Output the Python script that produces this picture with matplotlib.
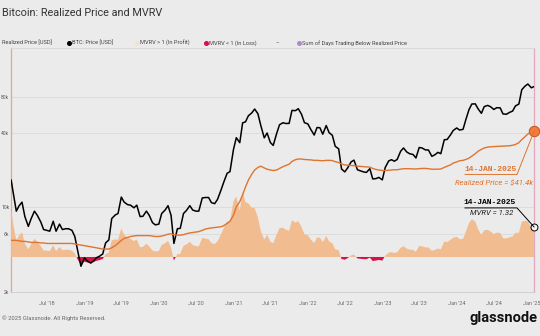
import matplotlib
matplotlib.use("Agg")
import matplotlib.pyplot as plt
import matplotlib.dates as mdates
from matplotlib.lines import Line2D
from matplotlib.ticker import NullLocator
from matplotlib.transforms import IdentityTransform
import numpy as np
import pandas as pd

# dates: one point in early Jan 2018, then 1st/15th of each month, then the last day
dates = (pd.DatetimeIndex([pd.Timestamp("2018-01-07")])
         .append(pd.date_range("2018-01-15", "2025-01-01", freq="SMS"))
         .append(pd.DatetimeIndex([pd.Timestamp("2025-01-14")])))

# BTC price [k USD]
price_k = [
    16.5, 13.6, 9.2, 10.2, 10.9, 8.3, 6.9, 8.0, 9.2, 8.5, 7.5, 6.5,
    6.4, 6.3, 7.6, 6.3, 7.2, 6.5, 6.6, 6.6, 6.4, 5.7, 4.2, 3.25,
    3.8, 3.6, 3.45, 3.6, 3.82, 3.92, 4.1, 5.05, 5.35, 8.0, 8.55, 8.8,
    12.0, 10.9, 10.4, 10.3, 9.8, 10.3, 8.3, 8.35, 9.2, 8.5, 7.4, 7.1,
    7.2, 8.8, 9.4, 10.2, 8.5, 5.0, 6.6, 6.65, 8.8, 9.3, 10.2, 9.4,
    9.2, 9.2, 11.8, 11.9, 11.9, 10.8, 10.6, 11.5, 13.7, 16.0, 18.8, 19.4,
    29.4, 36.8, 33.5, 48.7, 49.6, 55.6, 58.8, 63.2, 57.8, 46.4, 36.7, 40.2,
    33.6, 31.8, 39.9, 47.0, 48.8, 48.1, 48.2, 61.6, 61.3, 63.6, 57.2, 48.9,
    47.7, 43.1, 38.7, 44.6, 44.4, 39.3, 46.3, 40.5, 38.5, 31.3, 29.8, 20.4,
    19.3, 20.8, 23.3, 24.1, 20.1, 19.7, 19.3, 19.1, 20.5, 16.9, 17.0, 17.4,
    16.6, 20.9, 23.7, 24.3, 23.6, 24.4, 28.5, 30.3, 28.1, 27.2, 26.8, 25.1,
    30.6, 30.3, 29.2, 29.2, 25.9, 26.6, 27.9, 27.2, 35.4, 35.6, 38.7, 42.2,
    44.2, 42.5, 43.1, 51.9, 62.4, 69.5, 69.7, 63.4, 58.3, 66.2, 67.7, 66.0,
    62.7, 64.8, 64.6, 57.6, 57.3, 59.2, 60.8, 67.0, 69.5, 91.0, 97.4, 101.4,
    94.4, 96.5,
]

# realized price [k USD]
realized_k = [
    5.3, 5.3, 5.3, 5.25, 5.2, 5.2, 5.15, 5.1, 5.1, 5.1, 5.05, 5.05,
    5.0, 5.0, 5.0, 5.0, 5.0, 5.0, 5.0, 5.0, 5.0, 4.95, 4.9, 4.85,
    4.8, 4.75, 4.7, 4.65, 4.6, 4.55, 4.5, 4.5, 4.5, 4.6, 4.8, 5.0,
    5.3, 5.5, 5.6, 5.7, 5.75, 5.8, 5.8, 5.8, 5.8, 5.8, 5.75, 5.7,
    5.7, 5.75, 5.85, 5.95, 6.0, 5.9, 5.85, 5.85, 5.9, 6.0, 6.1, 6.15,
    6.2, 6.25, 6.4, 6.55, 6.65, 6.7, 6.75, 6.8, 6.85, 7.0, 7.3, 7.6,
    8.5, 10.0, 11.0, 12.5, 14.5, 16.5, 18.5, 20.0, 21.0, 21.5, 20.8, 20.3,
    20.0, 19.8, 20.0, 20.6, 21.3, 21.8, 22.3, 23.5, 24.3, 24.6, 24.6, 24.4,
    24.3, 24.2, 24.0, 24.0, 23.9, 23.8, 24.0, 24.0, 23.9, 23.4, 23.0, 22.4,
    22.0, 21.9, 21.8, 21.7, 21.5, 21.4, 21.3, 21.2, 21.1, 20.6, 20.2, 20.0,
    19.8, 19.8, 19.9, 20.0, 20.1, 20.1, 20.3, 20.5, 20.5, 20.5, 20.4, 20.4,
    20.5, 20.6, 20.6, 20.5, 20.3, 20.3, 20.3, 20.4, 21.0, 21.5, 22.0, 22.8,
    23.3, 23.8, 24.0, 24.4, 25.0, 26.0, 27.2, 28.5, 29.5, 30.3, 30.8, 31.0,
    31.1, 31.2, 31.3, 31.4, 31.5, 31.6, 31.9, 32.4, 33.5, 35.5, 37.5, 39.5,
    40.7, 41.4,
]

price_ticks = [2000, 6000, 10000, 40000, 80000]
price_tick_labels = ["2k", "6k", "10k", "40k", "80k"]

last_date_label = "14-JAN-2025"
rp_label = "Realized Price = $41.4k"
mvrv_label = "MVRV = 1.32"

assert len(price_k) == len(dates) == len(realized_k)
price = np.array(price_k) * 1000
realized = np.array(realized_k) * 1000
mvrv = price / realized  # MVRV = market value / realized value

BG = "#ebebeb"
ORANGE_AREA = "#f1bc8f"
RED = "#d6124c"
RP_COLOR = "#df7430"
FONT = ["Roboto", "DejaVu Sans"]
plt.rcParams["font.family"] = FONT

fig = plt.figure(figsize=(5.4, 3.36), dpi=100, facecolor=BG)
ax = fig.add_axes([11 / 540, 44 / 336, 523 / 540, 244 / 336])
ax.set_facecolor(BG)
ax.set_yscale("log")
ax.set_ylim(2000, 200000)
ax.set_yticks(price_ticks)
ax.set_yticklabels(price_tick_labels)
ax.yaxis.set_minor_locator(NullLocator())
ax.grid(axis="y", color="#dadada", lw=0.6)
ax.tick_params(axis="y", length=0, pad=1.2, labelsize=3.6, labelcolor="#555555")
ax.tick_params(axis="x", length=0, pad=6.5, labelsize=4, labelcolor="#6a6a6a")
ax.xaxis.set_major_locator(mdates.MonthLocator(bymonth=(1, 7)))
ax.xaxis.set_major_formatter(mdates.DateFormatter("%b '%y"))
ax.set_xlim(pd.Timestamp("2018-01-06"), pd.Timestamp("2025-01-14"))
ax.spines["left"].set_color("#f0a47c")
ax.spines["left"].set_linewidth(0.9)
ax.spines["right"].set_color("#e3a8bd")
ax.spines["right"].set_linewidth(0.9)
ax.spines["bottom"].set_color("#cccccc")
ax.spines["bottom"].set_linewidth(0.6)
ax.spines["top"].set_color("#d6d6d6")
ax.spines["top"].set_linewidth(0.6)

# MVRV area
ax2 = ax.twinx()
ax2.set_ylim(-0.55, 10.25)
ax2.fill_between(dates, 1, mvrv, where=mvrv >= 1, interpolate=True,
                 color=ORANGE_AREA, lw=0)
ax2.fill_between(dates, 1, mvrv, where=mvrv < 1, interpolate=True,
                 color=RED, lw=0)
ax2.set_yticks([])
for s in ax2.spines.values():
    s.set_visible(False)

# price + realized price
ax3 = ax.twinx()
ax3.set_yscale("log")
ax3.set_ylim(2000, 200000)
ax3.set_yticks([])
ax3.yaxis.set_minor_locator(NullLocator())
for s in ax3.spines.values():
    s.set_visible(False)
ax3.plot(dates, price, color="black", lw=1.1)
ax3.plot(dates, realized, color=RP_COLOR, lw=1.0)

# annotations at the last day
last = dates[-1]
ax3.plot([last], [realized[-1]], "o", ms=7.5, mfc="#f37b3d", mec="#c2551d",
         mew=0.7, clip_on=False, zorder=10)
ax2.plot([last], [mvrv[-1]], "o", ms=5, mfc="#f4f4f4", mec="black",
         mew=0.7, clip_on=False, zorder=10)

fig.canvas.draw()
px_rp = ax3.transData.transform((mdates.date2num(last), realized[-1]))
px_mv = ax2.transData.transform((mdates.date2num(last), mvrv[-1]))


def px_line(p, xs, ys, color):
    fig.add_artist(Line2D([p[0] + x for x in xs], [p[1] + y for y in ys],
                          transform=IdentityTransform(), color=color, lw=0.7))


def px_text(p, dx, dy, s, **kw):
    fig.text((p[0] + dx) / 540, (p[1] + dy) / 336, s, va="center", ha="right", **kw)


px_line(px_rp, [-69, -17, 0], [-43, -43, 0], RP_COLOR)
px_text(px_rp, -17, -38, last_date_label, color=RP_COLOR, fontsize=5.8,
        family=["Liberation Mono", "DejaVu Sans Mono"], weight="bold")
px_text(px_rp, -1, -52, rp_label, color=RP_COLOR, fontsize=5.6, style="italic")

px_line(px_mv, [-69, -17, 0], [19, 19, 0], "black")
px_text(px_mv, -18, 24, last_date_label, color="black", fontsize=5.8,
        family=["Liberation Mono", "DejaVu Sans Mono"], weight="bold")
px_text(px_mv, -21, 14, mvrv_label, color="#222222", fontsize=5.6, style="italic")

# legend row
leg_y = 1 - 43 / 336
legend_items = [
    (None, "Realized Price [USD]", 2),
    ("black", "BTC: Price [USD]", 72),
    ("#f3e2d2", "MVRV > 1 (In Profit)", 140),
    (RED, "MVRV < 1 (In Loss)", 209),
    (None, "\u2013", 276),
    ("#a98bd3", "Sum of Days Trading Below Realized Price", 302),
]
for color, label, x in legend_items:
    if color is not None:
        fig.add_artist(Line2D([(x - 3.5) / 540], [leg_y], marker="o", ms=2.6,
                              color=color, lw=0, transform=fig.transFigure))
    fig.text(x / 540, leg_y, label, fontsize=4.1, color="#444444", va="center")

fig.text(2 / 540, 1 - 13 / 336, "Bitcoin: Realized Price and MVRV",
         fontsize=7.8, color="#333333", va="center")
fig.text(2 / 540, 1 - 318 / 336, "\u00a9 2025 Glassnode. All Rights Reserved.",
         fontsize=4.2, color="#666666", va="center")
fig.text(537 / 540, 1 - 318 / 336, "glassnode", fontsize=10.5, weight="bold",
         color="#111111", va="center", ha="right")

fig.savefig("out.png", dpi=100, facecolor=BG)
